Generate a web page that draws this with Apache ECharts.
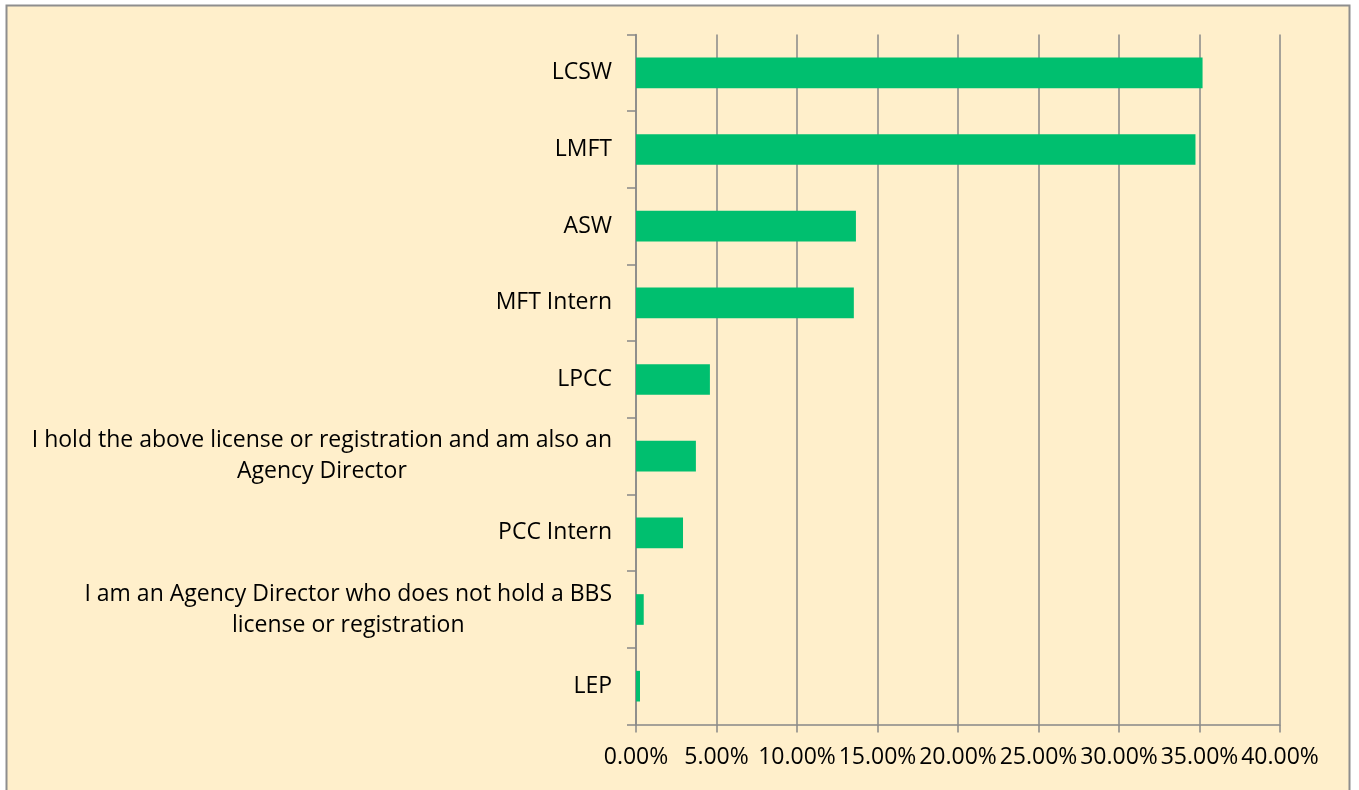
<!DOCTYPE html>
<html>
<head>
<meta charset="utf-8">
<script src="https://cdn.jsdelivr.net/npm/echarts@6/dist/echarts.min.js"></script>
<style>
  html, body { margin: 0; padding: 0; background: #ffffff; }
  #main { width: 1359px; height: 790px; }
</style>
</head>
<body>
<div id="main"></div>
<script>
  // categories, top to bottom
  var categories = [
    'LCSW',
    'LMFT',
    'ASW',
    'MFT Intern',
    'LPCC',
    'I hold the above license or registration and am also an\nAgency Director',
    'PCC Intern',
    'I am an Agency Director who does not hold a BBS\nlicense or registration',
    'LEP'
  ];
  // share of respondents, percent
  var shares = [35.19, 34.75, 13.66, 13.53, 4.59, 3.72, 2.92, 0.48, 0.25];
  var xTicks = [0, 5, 10, 15, 20, 25, 30, 35, 40];

  var gray = '#888888';
  var myChart = echarts.init(document.getElementById('main'));

  var option = {
    backgroundColor: '#ffffff',
    animation: false,
    graphic: [{
      type: 'rect',
      z: -10,
      shape: { x: 6.5, y: 5.5, width: 1343, height: 800 },
      style: { fill: '#FFEFCB', stroke: '#8e8e8e', lineWidth: 2 }
    }],
    grid: { left: 636, right: 79, top: 34.5, bottom: 65.5 },
    xAxis: {
      type: 'value',
      min: xTicks[0],
      max: xTicks[xTicks.length - 1],
      interval: 5,
      axisLine: { show: true, lineStyle: { color: gray, width: 1.5 } },
      axisTick: { show: true, length: 8, lineStyle: { color: gray, width: 1.5 } },
      splitLine: { show: true, lineStyle: { color: gray, width: 1.5 } },
      axisLabel: {
        margin: 21,
        color: '#000',
        fontFamily: 'Open Sans',
        fontSize: 23,
        formatter: function (v) { return v.toFixed(2) + '%'; }
      }
    },
    yAxis: {
      type: 'category',
      inverse: true,
      data: categories,
      axisLine: { show: true, lineStyle: { color: gray, width: 1.5 } },
      axisTick: { show: true, length: 9, lineStyle: { color: gray, width: 1.5 } },
      axisLabel: {
        margin: 24,
        color: '#000',
        fontFamily: 'Open Sans',
        fontSize: 23,
        lineHeight: 31,
        formatter: function (v) {
          return v.split('\n').map(function (s) { return '{c|' + s + '}'; }).join('\n');
        },
        rich: {
          c: { align: 'center', fontFamily: 'Open Sans', fontSize: 23, lineHeight: 31, color: '#000' }
        }
      }
    },
    series: [{
      type: 'bar',
      data: shares,
      barCategoryGap: '60%',
      itemStyle: { color: '#00BF6F' }
    }]
  };
  myChart.setOption(option);
</script>
</body>
</html>
